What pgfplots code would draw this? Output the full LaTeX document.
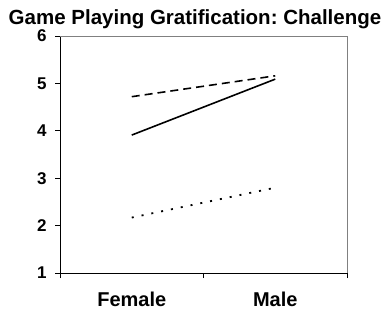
\documentclass[border=0pt]{standalone}
\usepackage{pgfplots}
\pgfplotsset{compat=1.18}
\usepackage{fontspec}
\setmainfont{Liberation Sans}
\frenchspacing
\begin{document}
\begin{tikzpicture}[x=1bp,y=1bp]
\useasboundingbox (0,0) rectangle (389,314);
\node[anchor=base,font=\fontsize{20.5bp}{22bp}\selectfont\bfseries] at (195,290) {Game Playing Gratification: Challenge};
\begin{axis}[
  at={(60bp,41bp)}, anchor=south west,
  scale only axis, width=287bp, height=237bp,
  xmin=0, xmax=2, ymin=1, ymax=6,
  axis x line*=bottom, axis y line*=left,
  axis line style={black, line width=1pt, -},
  xtick={0,1,2}, xticklabels={},
  ytick={1,2,3,4,5,6},
  yticklabel={\pgfmathprintnumber{\tick}},
  tick align=outside, major tick length=5bp,
  tick style={black, line width=1pt},
  extra x ticks={0.5,1.5}, extra x tick labels={Female,Male},
  extra x tick style={major tick length=0pt, xticklabel style={yshift=-15bp}},
  xticklabel style={font=\fontsize{20bp}{22bp}\selectfont\bfseries},
  yticklabel style={font=\fontsize{17bp}{19bp}\selectfont\bfseries, xshift=-5bp},
  /pgf/number format/assume math mode=true,
  clip=false,
]
\addplot[black, line width=1.6pt, dash pattern=on 8bp off 5bp] coordinates {(0.5,4.72) (1.5,5.16)};
\addplot[black, line width=1.6pt] coordinates {(0.5,3.91) (1.5,5.09)};
\addplot[black, line width=1.8pt, dash pattern=on 2bp off 8bp] coordinates {(0.5,2.17) (1.5,2.80)};
\draw[gray, line width=1pt] (rel axis cs:0,1) -- (rel axis cs:1,1) -- (rel axis cs:1,0);
\end{axis}
\end{tikzpicture}
\end{document}
